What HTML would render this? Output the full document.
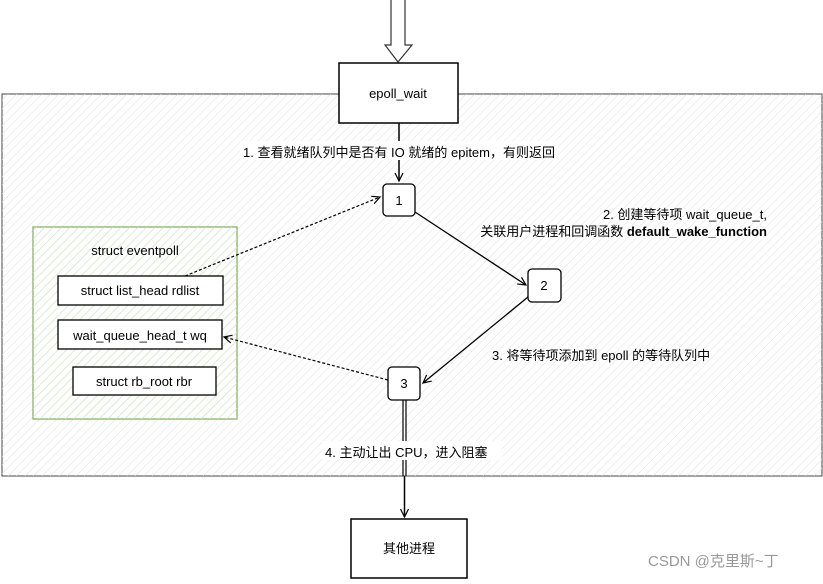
<!DOCTYPE html>
<html><head><meta charset="utf-8"><style>
body{margin:0;background:#fff}
svg text{font-family:"Liberation Sans","Noto Sans CJK SC",sans-serif;font-size:13px;fill:#000}
</style></head><body>
<svg width="823" height="579" viewBox="0 0 823 579" xmlns="http://www.w3.org/2000/svg">
<defs>
<pattern id="h" width="6" height="6" patternUnits="userSpaceOnUse" patternTransform="rotate(45)">
<line x1="0" y1="0" x2="0" y2="6" stroke="#e0e0e0" stroke-width="1"/></pattern>
<pattern id="g" width="6" height="6" patternUnits="userSpaceOnUse" patternTransform="rotate(45)">
<line x1="0" y1="0" x2="0" y2="6" stroke="#cfe3c4" stroke-width="1.5"/></pattern>
<marker id="a" markerWidth="10" markerHeight="10" refX="8" refY="5" orient="auto" markerUnits="userSpaceOnUse"><path d="M0,1 L8,5 L0,9" fill="none" stroke="#000" stroke-width="1.2"/></marker>
</defs>
<rect x="2" y="94" width="820" height="382" fill="#fff" stroke="#444" stroke-width="1"/>
<rect x="2" y="94" width="820" height="382" fill="url(#h)"/>
<path d="M391,0 L391,45 L385,45 L398,62 L412,45 L405,45 L405,0" fill="#fff" stroke="#333" stroke-width="1.2"/>
<rect x="339" y="63" width="119" height="60" fill="#fff" stroke="#000" stroke-width="1.5"/>
<text x="398" y="98" text-anchor="middle">epoll_wait</text>
<line x1="399" y1="123" x2="399" y2="181" stroke="#000" stroke-width="1.5" marker-end="url(#a)"/>
<rect x="240" y="141" width="318" height="19" fill="#fff"/>
<text x="243" y="157" textLength="312">1. 查看就绪队列中是否有 IO 就绪的 epitem，有则返回</text>
<rect x="383" y="184" width="32" height="32" rx="4" fill="#fff" stroke="#000" stroke-width="1.3"/>
<text x="399" y="205" text-anchor="middle">1</text>
<line x1="415" y1="212" x2="526" y2="285" stroke="#000" stroke-width="1.3" marker-end="url(#a)"/>
<rect x="528" y="269" width="33" height="33" rx="4" fill="#fff" stroke="#000" stroke-width="1.3"/>
<text x="544" y="290" text-anchor="middle">2</text>
<line x1="528" y1="297" x2="423" y2="383" stroke="#000" stroke-width="1.3" marker-end="url(#a)"/>
<text x="767" y="219" text-anchor="end">2. 创建等待项 wait_queue_t,</text>
<text x="767" y="236" text-anchor="end">关联用户进程和回调函数 <tspan font-weight="bold">default_wake_function</tspan></text>
<text x="492" y="360">3. 将等待项添加到 epoll 的等待队列中</text>
<rect x="388" y="367" width="32" height="33" rx="4" fill="#fff" stroke="#000" stroke-width="1.3"/>
<text x="404" y="388" text-anchor="middle">3</text>
<line x1="403" y1="400" x2="403" y2="476" stroke="#000" stroke-width="1.2"/>
<line x1="406" y1="400" x2="406" y2="476" stroke="#000" stroke-width="1.2"/>
<line x1="404.5" y1="476" x2="404.5" y2="517" stroke="#000" stroke-width="1.5" marker-end="url(#a)"/>
<rect x="322" y="441" width="180" height="19" fill="#fff"/>
<text x="325" y="457">4. 主动让出 CPU，进入阻塞</text>
<rect x="351" y="519" width="116" height="59" fill="#fff" stroke="#000" stroke-width="1.5"/>
<text x="409" y="553" text-anchor="middle">其他进程</text>
<rect x="33" y="227" width="204" height="192" fill="#fff" stroke="#82b366" stroke-width="1.3"/>
<rect x="33" y="227" width="204" height="192" fill="url(#g)"/>
<text x="135" y="255" text-anchor="middle">struct eventpoll</text>
<rect x="58" y="276" width="165" height="29" fill="#fff" stroke="#000" stroke-width="1.3"/>
<text x="140" y="295" text-anchor="middle">struct list_head rdlist</text>
<rect x="58" y="320" width="164" height="29" fill="#fff" stroke="#000" stroke-width="1.3"/>
<text x="140" y="340" text-anchor="middle">wait_queue_head_t wq</text>
<rect x="73" y="367" width="143" height="28" fill="#fff" stroke="#000" stroke-width="1.3"/>
<text x="144" y="386" text-anchor="middle">struct rb_root rbr</text>
<line x1="185" y1="276" x2="380" y2="197" stroke="#000" stroke-width="1.2" stroke-dasharray="3,2" marker-end="url(#a)"/>
<line x1="388" y1="380" x2="224" y2="337" stroke="#000" stroke-width="1.2" stroke-dasharray="3,2" marker-end="url(#a)"/>
<text x="648" y="566" style="font-size:15px;fill:#999">CSDN @克里斯~丁</text>
</svg>
</body></html>
